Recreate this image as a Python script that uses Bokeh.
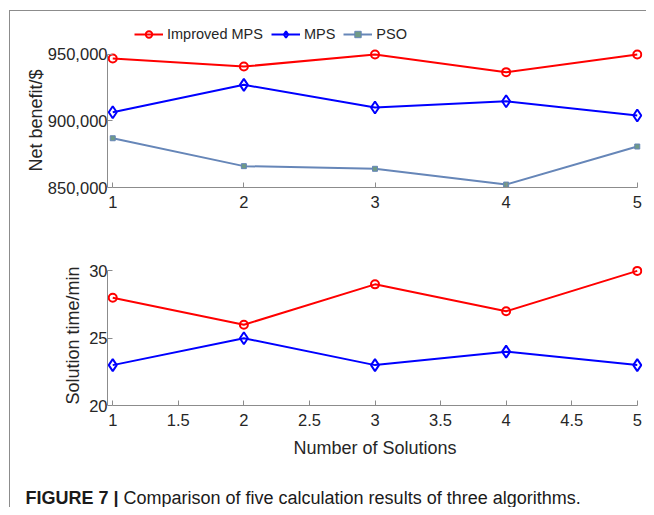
from bokeh.plotting import figure
from bokeh.layouts import column
from bokeh.models import (Range1d, FixedTicker, NumeralTickFormatter, Legend,
                          LegendItem, Label, Title)
from bokeh.embed import file_html
from bokeh.resources import INLINE

# ---------------- data ----------------
solutions = [1, 2, 3, 4, 5]
series_names = ["Improved MPS", "MPS", "PSO"]
benefit_improved_mps = [946600, 940600, 949600, 936400, 949600]
benefit_mps = [906400, 926900, 909900, 914600, 903900]
benefit_pso = [886900, 866000, 864000, 852200, 880700]
time_improved_mps = [28, 26, 29, 27, 30]
time_mps = [23, 25, 23, 24, 23]

top_x_ticks = [1, 2, 3, 4, 5]
top_y_ticks = [850000, 900000, 950000]
bottom_x_ticks = [1, 1.5, 2, 2.5, 3, 3.5, 4, 4.5, 5]
bottom_y_ticks = [20, 25, 30]

x_label = "Number of Solutions"
top_y_label = "Net benefit/$"
bottom_y_label = "Solution time/min"
caption_bold = "FIGURE 7 |"
caption_text = "Comparison of five calculation results of three algorithms."

# ---------------- style ----------------
RED = "#ff0000"
BLUE = "#0000ff"
PSO_C = "#6686b8"
AX = "#8c8c8c"
TXT = "#262626"
FONT = "Liberation Sans"


def style(p, xt, yt, yfmt):
    p.xgrid.visible = False
    p.ygrid.visible = False
    p.outline_line_color = None
    p.background_fill_color = "white"
    p.border_fill_color = "white"
    for ax in (p.xaxis[0], p.yaxis[0]):
        ax.axis_line_color = AX
        ax.major_tick_line_color = AX
        ax.minor_tick_line_color = None
        ax.major_tick_in = 5
        ax.major_tick_out = 0
        ax.major_label_text_font = FONT
        ax.major_label_text_font_size = "16.5px"
        ax.major_label_text_color = TXT
        ax.axis_label_text_font = FONT
        ax.axis_label_text_font_size = "18px"
        ax.axis_label_text_font_style = "normal"
        ax.axis_label_text_color = TXT
    p.xaxis[0].ticker = FixedTicker(ticks=xt)
    p.yaxis[0].ticker = FixedTicker(ticks=yt)
    p.xaxis[0].bounds = (min(xt), max(xt))
    p.yaxis[0].bounds = (min(yt), max(yt))
    p.xaxis[0].major_label_standoff = 8
    p.yaxis[0].major_label_standoff = 0
    p.yaxis[0].axis_label_standoff = 3
    p.yaxis[0].formatter = NumeralTickFormatter(format=yfmt)
    p.xaxis[0].formatter = NumeralTickFormatter(format="0.[0]")


# ---------------- top plot ----------------
p1 = figure(width=636, height=202, x_range=Range1d(0.96, 5.04),
            y_range=Range1d(850000, 973600), output_backend="svg",
            toolbar_location=None, min_border_left=97, min_border_right=4,
            min_border_top=11, min_border_bottom=26)
style(p1, top_x_ticks, top_y_ticks, "0,0")

ylab = Title(text=top_y_label, align="left", offset=16, standoff=-3,
             text_font=FONT, text_font_size="18px", text_font_style="normal",
             text_color=TXT)
p1.add_layout(ylab, "left")

l1 = p1.line(solutions, benefit_improved_mps, line_color=RED, line_width=2)
m1 = p1.scatter(solutions, benefit_improved_mps, marker="circle", size=8,
                line_color=RED, line_width=2, fill_alpha=0)
l2 = p1.line(solutions, benefit_mps, line_color=BLUE, line_width=2)
m2 = p1.scatter(solutions, benefit_mps, marker="diamond", size=12,
                line_color=BLUE, line_width=2, fill_alpha=0)
l3 = p1.line(solutions, benefit_pso, line_color=PSO_C, line_width=2)
m3 = p1.scatter(solutions, benefit_pso, marker="square", size=5,
                line_color=PSO_C, line_width=1, fill_color="#6f9a86")

legend = Legend(items=[LegendItem(label=series_names[0], renderers=[l1, m1]),
                       LegendItem(label=series_names[1], renderers=[l2, m2]),
                       LegendItem(label=series_names[2], renderers=[l3, m3])],
                location=(27, 145), orientation="horizontal",
                glyph_width=29, glyph_height=16, label_height=16,
                label_standoff=4, spacing=8, padding=0, margin=0,
                label_text_font=FONT, label_text_font_size="14.5px",
                label_text_color=TXT, background_fill_alpha=0,
                border_line_alpha=0)
p1.add_layout(legend)

# ---------------- bottom plot ----------------
p2 = figure(width=636, height=249, x_range=Range1d(0.96, 5.04),
            y_range=Range1d(20, 30.4), output_backend="svg",
            toolbar_location=None, min_border_left=97, min_border_right=4,
            min_border_top=52, min_border_bottom=57)
style(p2, bottom_x_ticks, bottom_y_ticks, "0")
p2.yaxis[0].axis_label = bottom_y_label
p2.xaxis[0].axis_label = x_label
p2.xaxis[0].axis_label_standoff = 9

p2.line(solutions, time_improved_mps, line_color=RED, line_width=2)
p2.scatter(solutions, time_improved_mps, marker="circle", size=8,
           line_color=RED, line_width=2, fill_alpha=0)
p2.line(solutions, time_mps, line_color=BLUE, line_width=2)
p2.scatter(solutions, time_mps, marker="diamond", size=12,
           line_color=BLUE, line_width=2, fill_alpha=0)

# ---------------- caption ----------------
p3 = figure(width=636, height=45, x_range=Range1d(0, 1), y_range=Range1d(0, 1),
            x_axis_type=None, y_axis_type=None, output_backend="svg",
            toolbar_location=None, min_border=0)
p3.frame_align = False
p3.xgrid.visible = False
p3.ygrid.visible = False
p3.outline_line_color = None
p3.add_layout(Label(x=15, y=10, x_units="screen", y_units="screen",
                    text=caption_bold, text_font=FONT, text_font_size="18px",
                    text_font_style="bold", text_baseline="middle",
                    text_color="#1a1a1a"))
p3.add_layout(Label(x=113, y=10, x_units="screen", y_units="screen",
                    text=caption_text, text_font=FONT, text_font_size="18px",
                    text_baseline="middle", text_color="#1a1a1a"))

layout = column(p1, p2, p3, spacing=0,
                styles={"margin-left": "9px", "margin-top": "10px",
                        "border-top": "1px solid #8c8c8c",
                        "border-left": "1px solid #8c8c8c"})

open("out.html", "w").write(file_html(layout, INLINE))
